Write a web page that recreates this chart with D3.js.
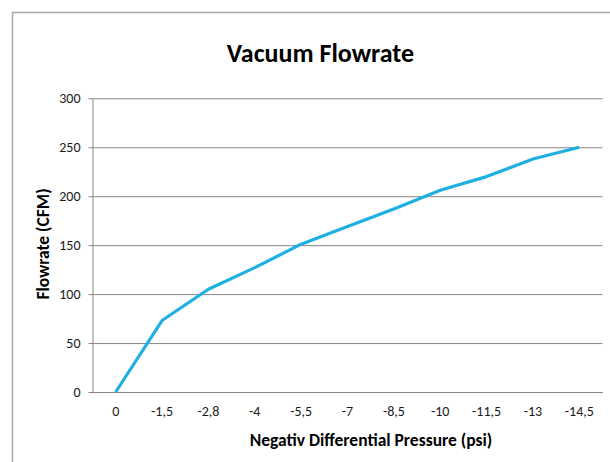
<!DOCTYPE html>
<html>
<head>
<meta charset="utf-8">
<script src="https://cdn.jsdelivr.net/npm/d3@7/dist/d3.min.js"></script>
<style>
  html, body { margin: 0; padding: 0; background: #fff; }
  svg { display: block; }
  text { font-family: Carlito, Lato, "Liberation Sans", sans-serif; }
</style>
</head>
<body>
<svg id="chart" width="610" height="462"></svg>
<script>
const categories = ["0", "-1,5", "-2,8", "-4", "-5,5", "-7", "-8,5", "-10", "-11,5", "-13", "-14,5"];
const flowrate = [0, 73, 105, 127, 151, 169, 187, 206, 220, 238, 250];
const yTicks = [0, 50, 100, 150, 200, 250, 300];
const titleText = "Vacuum Flowrate";
const xTitle = "Negativ Differential Pressure (psi)";
const yTitle = "Flowrate (CFM)";

const svg = d3.select("#chart");
const W = 610, H = 462;
const plot = { left: 92.5, right: 602.5, top: 98.3, bottom: 392 };

// chart frame
svg.append("rect")
  .attr("x", 12.5).attr("y", 12.5)
  .attr("width", W + 20).attr("height", H + 20)
  .attr("fill", "#fff").attr("stroke", "#a9a9a9").attr("stroke-width", 1.5);

const x = d3.scaleBand().domain(categories).range([plot.left, plot.right]).padding(0);
const y = d3.scaleLinear().domain([0, 300]).range([plot.bottom, plot.top]);

// gridlines + y axis
const yAxis = d3.axisLeft(y).tickValues(yTicks).tickSize(-(plot.right - plot.left)).tickPadding(12).tickSizeOuter(0);
const gy = svg.append("g").attr("transform", `translate(${plot.left},0)`).call(yAxis);
gy.select(".domain").attr("stroke", "#868686");
gy.selectAll(".tick line").attr("stroke", "#868686").attr("x1", -4).attr("stroke-width", 1);
gy.selectAll(".tick text").attr("font-size", 14).attr("fill", "#1a1a1a")
  .attr("font-family", "Carlito, Lato, sans-serif");

// x axis
const xAxis = d3.axisBottom(x).tickSize(0).tickPadding(14);
const gx = svg.append("g").attr("transform", `translate(0,${plot.bottom})`).call(xAxis);
gx.select(".domain").attr("stroke", "#868686");
gx.selectAll(".tick text").attr("font-size", 14).attr("fill", "#1a1a1a")
  .attr("font-family", "Carlito, Lato, sans-serif");

// line
const line = d3.line()
  .x((d, i) => x(categories[i]) + x.bandwidth() / 2)
  .y(d => y(d));
svg.append("path")
  .datum(flowrate)
  .attr("d", line)
  .attr("fill", "none")
  .attr("stroke", "#1eb0e2")
  .attr("stroke-width", 3.2)
  .attr("stroke-linejoin", "round");

// titles
svg.append("text")
  .attr("x", 320.5).attr("y", 62)
  .attr("text-anchor", "middle")
  .attr("font-size", 26).attr("font-weight", "bold").attr("fill", "#000")
  .text(titleText);

svg.append("text")
  .attr("x", 371).attr("y", 445.5)
  .attr("text-anchor", "middle")
  .attr("font-size", 17.5).attr("font-weight", "bold").attr("fill", "#000")
  .text(xTitle);

svg.append("text")
  .attr("transform", `translate(49,244) rotate(-90)`)
  .attr("text-anchor", "middle")
  .attr("font-size", 17.5).attr("font-weight", "bold").attr("fill", "#000")
  .text(yTitle);
</script>
</body>
</html>
